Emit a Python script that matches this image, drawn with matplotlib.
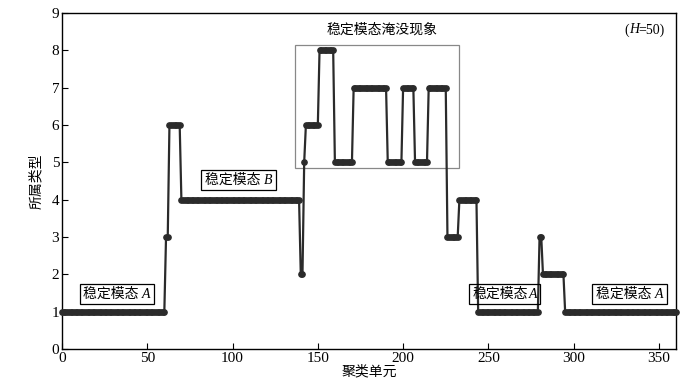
import numpy as np
import matplotlib
matplotlib.use('Agg')
import matplotlib.pyplot as plt
from matplotlib.patches import Rectangle
from matplotlib.offsetbox import TextArea, HPacker, AnnotationBbox

plt.rcParams['font.family'] = ['Liberation Serif', 'Noto Sans CJK SC', 'DejaVu Sans']

# class of each clustering unit, stored as runs (level, number of cells)
levels = [1, 3, 6, 4, 2, 5, 6, 8, 5, 7, 5, 7, 5, 7, 3, 4, 1, 3, 2, 1]
run_len = [61, 2, 7, 70, 2, 1, 8, 9, 11, 20, 9, 7, 8, 11, 7, 11, 36, 2, 13, 66]

y = np.repeat(levels, run_len)
x = np.arange(len(y))

fig = plt.figure(figsize=(6.99, 3.90), dpi=100)
ax = fig.add_axes([62/699, 1 - 349/390, 614/699, 336/390])

ax.plot(x, y, color='#2b2b2b', lw=1.6, marker='o', ms=3.8, mec='#2b2b2b', clip_on=False, zorder=3)

ax.set_xlim(0, 360)
ax.set_ylim(0, 9)
ax.set_xticks(np.arange(0, 351, 50))
ax.set_yticks(np.arange(0, 10, 1))
ax.tick_params(direction='in', labelsize=11, length=4, pad=2)
for s in ax.spines.values():
    s.set_linewidth(1.0)

ax.set_xlabel('聚类单元', fontsize=10, labelpad=0)
ax.set_ylabel('所属类型', fontsize=10, labelpad=6)


def mode_label(xc, yc, letter, gap=' ', fc='white'):
    parts = [TextArea('稳定模态' + gap, textprops=dict(fontsize=10)),
             TextArea(letter, textprops=dict(fontsize=10, style='italic'))]
    pack = HPacker(children=parts, pad=0, sep=0, align='baseline')
    ab = AnnotationBbox(pack, (xc, yc), xycoords='data', frameon=True, pad=0.25,
                        box_alignment=(0.5, 0.5), zorder=4,
                        bboxprops=dict(boxstyle='square,pad=0.25', fc=fc, ec='black', lw=0.9))
    ax.add_artist(ab)


mode_label(32.2, 1.47, 'A')
mode_label(103.5, 4.53, 'B')
mode_label(259.7, 1.47, 'A', gap='', fc='none')
mode_label(332.7, 1.47, 'A')

ax.add_patch(Rectangle((136.6, 4.85), 96.2, 3.29, fill=False, ec='#888888', lw=0.9, zorder=2))
ax.text(187.6, 8.55, '稳定模态淹没现象', ha='center', va='center', fontsize=10)

hp = HPacker(children=[TextArea('(', textprops=dict(fontsize=10)),
                       TextArea('H', textprops=dict(fontsize=10, style='italic')),
                       TextArea('=50)', textprops=dict(fontsize=10))],
             pad=0, sep=0, align='baseline')
ax.add_artist(AnnotationBbox(hp, (353.5, 8.55), xycoords='data', frameon=False,
                             box_alignment=(1.0, 0.5), pad=0))

fig.savefig('out.png', dpi=100)
